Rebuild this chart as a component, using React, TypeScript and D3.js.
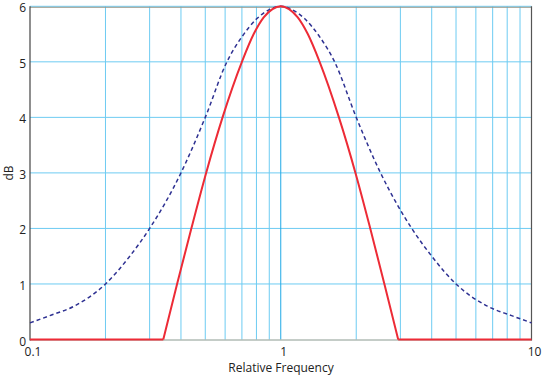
import React from "react";
import * as d3 from "d3";

const xTicks = [0.1, 1, 10];
const xTickLabels = ["0.1", "1", "10"];
const yTicks = [0, 1, 2, 3, 4, 5, 6];
const gridFreqs = [0.2, 0.3, 0.4, 0.5, 0.6, 0.7, 0.8, 0.9, 1, 2, 3, 4, 5, 6, 7, 8, 9];

// dashed navy series
const dashedFreq = [0.1, 0.12, 0.15, 0.2, 0.25, 0.3, 0.4, 0.5, 0.61, 0.7, 0.8, 0.9, 1, 1.11, 1.25, 1.43, 1.64, 2, 2.5, 3.33, 4, 5, 6.67, 8.33, 10];
const dashedDb = [0.3, 0.43, 0.6, 1.0, 1.5, 2.0, 3.0, 4.0, 5.0, 5.45, 5.77, 5.94, 6, 5.94, 5.77, 5.45, 5.0, 4.0, 3.0, 2.0, 1.5, 1.0, 0.6, 0.43, 0.3];

// solid red series
const redFreq = [0.1, 0.34, 0.386, 0.44, 0.504, 0.586, 0.7, 0.78, 0.855, 0.927, 1, 1.079, 1.169, 1.282, 1.429, 1.706, 1.986, 2.275, 2.59, 2.94, 10];
const redDb = [0, 0, 1, 2, 3, 4, 5, 5.5, 5.8, 5.95, 6, 5.95, 5.8, 5.5, 5, 4, 3, 2, 1, 0, 0];

export default function App() {
  const W = 542, H = 375;
  const x = d3.scaleLog().domain([0.1, 10]).range([30, 531.5]);
  const y = d3.scaleLinear().domain([0, 6]).range([339.5, 6.3]);

  const dashedPts = dashedFreq.map((f, i) => [x(f), y(dashedDb[i])] as [number, number]);
  const redPts = redFreq.map((f, i) => [x(f), y(redDb[i])] as [number, number]);
  const curveLine = d3.line().curve(d3.curveMonotoneX);
  const lin = d3.line();
  // red: flat parts straight, hump smooth
  const iStart = 1, iEnd = redPts.length - 2;
  const redHump = curveLine(redPts.slice(iStart, iEnd + 1));
  const redLeft = lin(redPts.slice(0, iStart + 1));
  const redRight = lin(redPts.slice(iEnd));

  const grid = "#6dcbf2";
  const font = "'Open Sans', 'Noto Sans', sans-serif";
  return (
    <svg width={W} height={H} style={{ position: "absolute", left: 0, top: 0, background: "#fff" }}>
      {yTicks.filter(t => t > 0).map(t => (
        <line key={"h" + t} x1={30} x2={531.5} y1={y(t)} y2={y(t)} stroke={grid} strokeWidth={1} />
      ))}
      {gridFreqs.map(f => (
        <line key={"v" + f} x1={x(f)} x2={x(f)} y1={y(6)} y2={y(0)} stroke={f === 1 ? "#1fa9e6" : grid} strokeWidth={1} />
      ))}
      <line x1={30} x2={531.5} y1={y(6) + 1} y2={y(6) + 1} stroke="#9a9a8c" strokeWidth={1} />
      <line x1={30} x2={531.5} y1={y(0) + 0.5} y2={y(0) + 0.5} stroke="#8a9a90" strokeWidth={1} />
      <line x1={30} x2={30} y1={y(6)} y2={y(0) + 1} stroke="#444" strokeWidth={1.2} />
      <line x1={531.5} x2={531.5} y1={y(6)} y2={y(0) + 1} stroke="#555" strokeWidth={1.2} />
      <path d={curveLine(dashedPts) || ""} fill="none" stroke="#2e3192" strokeWidth={1.5} strokeDasharray="4,3" />
      <path d={redLeft || ""} fill="none" stroke="#ed2b36" strokeWidth={2} />
      <path d={redRight || ""} fill="none" stroke="#ed2b36" strokeWidth={2} />
      <path d={redHump || ""} fill="none" stroke="#ed2b36" strokeWidth={2} />
      {yTicks.map(t => (
        <text key={"yl" + t} x={26} y={y(t) + 6} textAnchor="end" fontFamily={font} fontSize={12} fill="#222">{t}</text>
      ))}
      {xTicks.map((t, i) => (
        <text key={"xl" + t} x={x(t) + 3} y={355.5} textAnchor="middle" fontFamily={font} fontSize={12} fill="#222">{xTickLabels[i]}</text>
      ))}
      <text x={281} y={371.5} textAnchor="middle" fontFamily={font} fontSize={12} fill="#222">Relative Frequency</text>
      <text transform="translate(12.5,173) rotate(-90)" textAnchor="middle" fontFamily={font} fontSize={12} fill="#222">dB</text>
    </svg>
  );
}
